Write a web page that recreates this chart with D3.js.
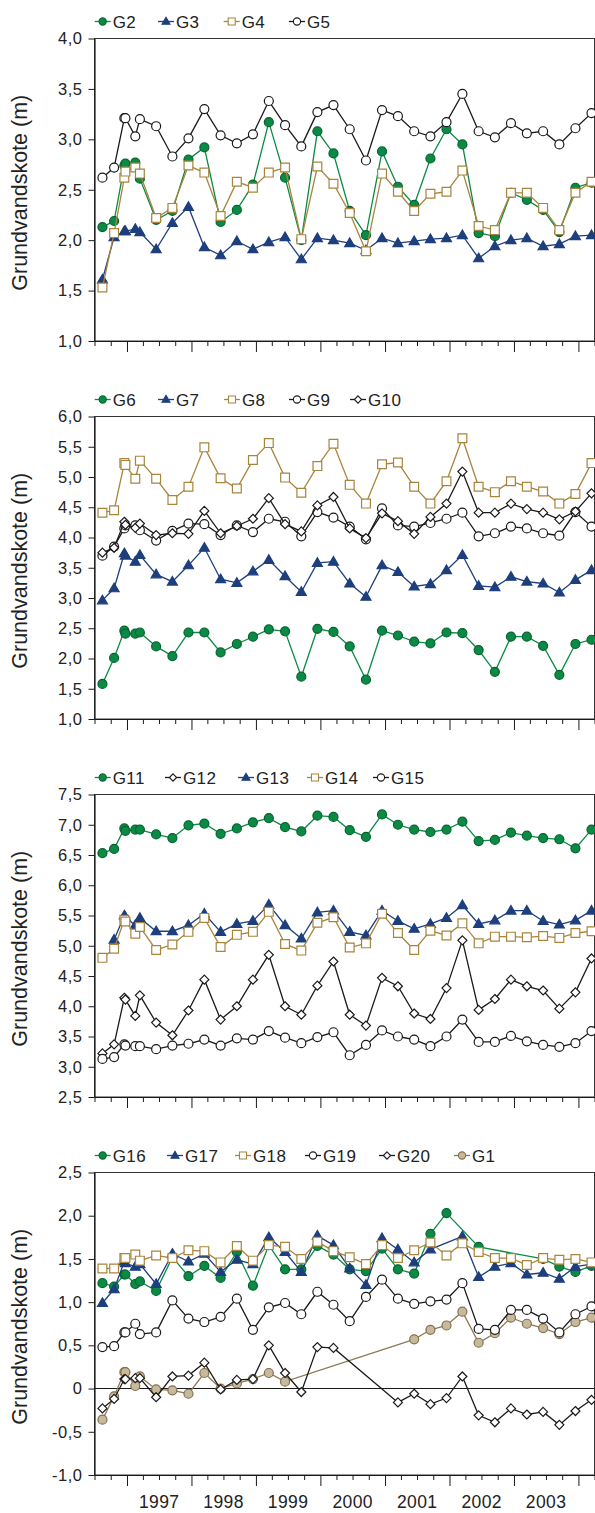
<!DOCTYPE html>
<html>
<head>
<meta charset="utf-8">
<script src="https://cdn.jsdelivr.net/npm/d3@7.9.0/dist/d3.min.js"></script>
<style>
  body { margin: 0; background: #fff; }
  svg { display: block; font-family: "Liberation Sans", Arial, sans-serif; }
</style>
</head>
<body>
<div id="chart"></div>
<script>
// sampling dates (two close samplings in Dec 1996)
const dates = ["1996-08-15", "1996-10-20", "1996-12-17", "1996-12-23", "1997-02-17", "1997-03-15",
  "1997-06-15", "1997-09-15", "1997-12-15", "1998-03-15", "1998-06-15", "1998-09-15", "1998-12-15",
  "1999-03-15", "1999-06-15", "1999-09-15", "1999-12-15", "2000-03-15", "2000-06-15", "2000-09-15",
  "2000-12-15", "2001-03-15", "2001-06-15", "2001-09-15", "2001-12-15", "2002-03-15", "2002-06-15",
  "2002-09-15", "2002-12-15", "2003-03-15", "2003-06-15", "2003-09-15", "2003-12-15", "2004-03-15"];

const yearLabels = [1997, 1998, 1999, 2000, 2001, 2002, 2003];

// groundwater level (m) per well
const G2  = [2.13, 2.19, 2.74, 2.76, 2.77, 2.61, 2.20, 2.29, 2.80, 2.92, 2.18, 2.30, 2.55, 3.17, 2.62, 2.00, 3.08, 2.86, 2.29, 2.05, 2.88, 2.53, 2.35, 2.81, 3.10, 2.95, 2.07, 2.04, 2.47, 2.40, 2.30, 2.08, 2.52, 2.57];
const G3  = [1.61, 2.03, 2.09, 2.09, 2.11, 2.08, 1.91, 2.17, 2.33, 1.93, 1.85, 1.99, 1.91, 1.98, 2.03, 1.81, 2.02, 2.00, 1.97, 1.90, 2.02, 1.97, 1.99, 2.01, 2.02, 2.05, 1.82, 1.94, 2.00, 2.02, 1.94, 1.96, 2.04, 2.05];
const G4  = [1.53, 2.07, 2.62, 2.68, 2.72, 2.66, 2.22, 2.32, 2.74, 2.67, 2.24, 2.58, 2.52, 2.67, 2.72, 2.01, 2.73, 2.56, 2.27, 1.89, 2.66, 2.48, 2.29, 2.46, 2.48, 2.69, 2.14, 2.10, 2.47, 2.47, 2.32, 2.10, 2.47, 2.58];
const G5  = [2.62, 2.72, 3.21, 3.21, 3.03, 3.20, 3.13, 2.83, 3.01, 3.30, 3.04, 2.96, 3.05, 3.38, 3.14, 2.93, 3.27, 3.34, 3.10, 2.79, 3.29, 3.23, 3.08, 3.03, 3.17, 3.45, 3.08, 3.02, 3.16, 3.06, 3.08, 2.95, 3.11, 3.26];

const G6  = [1.58, 2.01, 2.46, 2.41, 2.41, 2.43, 2.20, 2.04, 2.43, 2.43, 2.10, 2.24, 2.36, 2.48, 2.45, 1.70, 2.49, 2.44, 2.20, 1.65, 2.46, 2.38, 2.28, 2.25, 2.43, 2.42, 2.14, 1.78, 2.36, 2.36, 2.21, 1.73, 2.24, 2.31];
const G7  = [2.96, 3.16, 3.74, 3.70, 3.60, 3.71, 3.39, 3.27, 3.54, 3.83, 3.31, 3.25, 3.44, 3.63, 3.36, 3.10, 3.58, 3.60, 3.24, 3.02, 3.54, 3.43, 3.19, 3.23, 3.46, 3.71, 3.20, 3.18, 3.35, 3.27, 3.24, 3.09, 3.30, 3.46];
const G8  = [4.41, 4.45, 5.23, 5.20, 4.97, 5.27, 4.97, 4.62, 4.84, 5.49, 4.98, 4.81, 5.28, 5.56, 4.99, 4.74, 5.18, 5.55, 4.87, 4.56, 5.21, 5.24, 4.84, 4.56, 4.93, 5.64, 4.84, 4.75, 4.93, 4.84, 4.76, 4.56, 4.72, 5.23];
const G9  = [3.70, 3.85, 4.15, 4.20, 4.20, 4.12, 3.95, 4.11, 4.23, 4.22, 4.04, 4.20, 4.09, 4.31, 4.26, 4.02, 4.42, 4.33, 4.18, 3.97, 4.48, 4.20, 4.18, 4.24, 4.31, 4.41, 4.02, 4.07, 4.18, 4.15, 4.07, 4.03, 4.42, 4.18];
const G10 = [3.75, 3.83, 4.26, 4.21, 4.16, 4.23, 4.04, 4.07, 4.06, 4.44, 4.07, 4.19, 4.31, 4.65, 4.22, 4.10, 4.53, 4.67, 4.15, 3.99, 4.40, 4.27, 4.06, 4.34, 4.56, 5.09, 4.41, 4.41, 4.56, 4.47, 4.41, 4.30, 4.43, 4.73];

const G11 = [6.53, 6.60, 6.94, 6.90, 6.92, 6.92, 6.84, 6.78, 6.99, 7.02, 6.85, 6.94, 7.04, 7.11, 6.96, 6.89, 7.15, 7.13, 6.91, 6.80, 7.17, 7.00, 6.92, 6.88, 6.92, 7.05, 6.73, 6.75, 6.87, 6.82, 6.78, 6.76, 6.61, 6.92];
const G12 = [3.22, 3.37, 4.14, 4.11, 3.84, 4.18, 3.73, 3.52, 3.93, 4.44, 3.78, 4.00, 4.44, 4.85, 4.00, 3.86, 4.34, 4.74, 3.86, 3.68, 4.47, 4.33, 3.88, 3.79, 4.30, 5.09, 3.94, 4.12, 4.44, 4.33, 4.26, 3.96, 4.23, 4.79];
const G13 = [null, 5.10, 5.50, 5.47, 5.34, 5.46, 5.24, 5.24, 5.34, 5.53, 5.23, 5.36, 5.41, 5.68, 5.34, 5.12, 5.55, 5.58, 5.23, 5.17, 5.58, 5.41, 5.28, 5.36, 5.46, 5.67, 5.36, 5.42, 5.58, 5.58, 5.41, 5.35, 5.42, 5.58];
const G14 = [4.80, 4.95, 5.43, 5.40, 5.20, 5.31, 4.93, 5.02, 5.23, 5.46, 4.98, 5.18, 5.23, 5.56, 5.03, 4.92, 5.38, 5.47, 4.97, 5.04, 5.53, 5.21, 4.93, 5.25, 5.17, 5.37, 5.04, 5.15, 5.15, 5.14, 5.16, 5.13, 5.21, 5.24];
const G15 = [3.13, 3.16, 3.37, 3.35, 3.34, 3.34, 3.29, 3.35, 3.38, 3.45, 3.35, 3.47, 3.45, 3.59, 3.48, 3.39, 3.49, 3.57, 3.19, 3.36, 3.60, 3.50, 3.45, 3.34, 3.50, 3.78, 3.41, 3.41, 3.51, 3.42, 3.36, 3.33, 3.39, 3.59];

const G16 = [1.22, 1.18, 1.32, 1.32, 1.21, 1.24, 1.13, 1.52, 1.30, 1.42, 1.28, 1.58, 1.19, 1.66, 1.38, 1.38, 1.65, 1.55, 1.38, 1.36, 1.62, 1.38, 1.33, 1.79, 2.03, null, 1.64, null, null, null, 1.50, 1.41, 1.35, 1.42];
const G17 = [0.99, 1.15, 1.47, 1.45, 1.41, 1.44, 1.21, 1.56, 1.47, 1.56, 1.35, 1.49, 1.44, 1.75, 1.58, 1.35, 1.77, 1.66, 1.39, 1.20, 1.74, 1.61, 1.46, 1.61, null, 1.76, 1.29, 1.41, 1.45, 1.32, 1.34, 1.27, 1.41, 1.44];
const G18 = [1.39, 1.39, 1.51, 1.51, 1.55, 1.48, 1.54, 1.51, 1.60, 1.59, 1.46, 1.65, 1.48, 1.66, 1.64, 1.50, 1.70, 1.59, 1.52, 1.44, 1.66, 1.51, 1.60, 1.69, 1.54, 1.68, 1.58, 1.51, 1.51, 1.43, 1.51, 1.49, 1.50, 1.46];
const G19 = [0.48, 0.49, 0.65, 0.65, 0.75, 0.63, 0.65, 1.02, 0.81, 0.77, 0.83, 1.04, 0.68, 0.94, 0.99, 0.86, 1.12, 0.97, 0.78, 1.06, 1.26, 1.04, 0.98, 1.01, 1.03, 1.22, 0.69, 0.68, 0.91, 0.91, 0.81, 0.65, 0.86, 0.95];
const G20 = [-0.23, -0.12, 0.11, 0.11, 0.12, 0.12, -0.10, 0.14, 0.15, 0.30, -0.01, 0.10, 0.11, 0.50, 0.18, -0.04, 0.48, 0.47, null, null, null, -0.16, -0.06, -0.18, -0.11, 0.14, -0.31, -0.39, -0.23, -0.30, -0.27, -0.42, -0.26, -0.13];
const G1  = [-0.36, -0.09, 0.19, 0.19, 0.03, 0.14, -0.01, -0.02, -0.06, 0.18, 0.00, 0.06, 0.11, 0.18, 0.08, null, null, null, null, null, null, null, 0.57, 0.68, 0.73, 0.89, 0.53, 0.64, 0.82, 0.75, 0.70, 0.63, 0.77, 0.82];

const seriesValues = { G1, G2, G3, G4, G5, G6, G7, G8, G9, G10, G11, G12, G13, G14, G15, G16, G17, G18, G19, G20 };

// panels: legend order, y range
const panels = [
  { legend: ["G2", "G3", "G4", "G5"], yMin: 1, yMax: 4 },
  { legend: ["G6", "G7", "G8", "G9", "G10"], yMin: 1, yMax: 6 },
  { legend: ["G11", "G12", "G13", "G14", "G15"], yMin: 2.5, yMax: 7.5 },
  { legend: ["G16", "G17", "G18", "G19", "G20", "G1"], yMin: -1, yMax: 2.5 }
];

// --- look ---
const green = "#0a8a44", greenDark = "#06632f", navy = "#1e3f7d", tan = "#a8843c", ink = "#1a1a1a";
const styles = {
  dotGreen:  { shape: "circle",   fill: green,     stroke: greenDark, line: green },
  triNavy:   { shape: "triangle", fill: navy,      stroke: navy,      line: navy },
  sqTan:     { shape: "square",   fill: "#fff",    stroke: tan,       line: tan },
  openCirc:  { shape: "circle",   fill: "#fff",    stroke: ink,       line: ink },
  diamond:   { shape: "diamond",  fill: "#fff",    stroke: ink,       line: ink },
  dotBeige:  { shape: "circle",   fill: "#c9b99c", stroke: "#80714f", line: "#8d7a55" }
};
const seriesStyle = {
  G2: "dotGreen", G3: "triNavy", G4: "sqTan", G5: "openCirc",
  G6: "dotGreen", G7: "triNavy", G8: "sqTan", G9: "openCirc", G10: "diamond",
  G11: "dotGreen", G12: "diamond", G13: "triNavy", G14: "sqTan", G15: "openCirc",
  G16: "dotGreen", G17: "triNavy", G18: "sqTan", G19: "openCirc", G20: "diamond", G1: "dotBeige"
};
// draw order per panel (G1 sits behind in the last panel)
const drawOrder = [
  ["G2", "G3", "G4", "G5"],
  ["G6", "G7", "G8", "G9", "G10"],
  ["G11", "G12", "G13", "G14", "G15"],
  ["G1", "G16", "G17", "G18", "G19", "G20"]
];
// legend marker centres, per panel
const legendX = [
  [102.7, 166, 231.7, 297],
  [102.7, 166, 232, 297, 358],
  [102.7, 173, 246, 315, 381],
  [102.7, 175, 243, 313, 387, 462]
];

function markerPath(shape, s) {
  if (shape === "circle") return d3.symbol(d3.symbolCircle, Math.PI * (4.5 * s) ** 2)();
  if (shape === "square") return d3.symbol(d3.symbolSquare, (8.8 * s) ** 2)();
  if (shape === "triangle") {
    const w = 5 * s, h = 8.6 * s;
    return `M0,${-h * 0.6}L${w},${h * 0.4}L${-w},${h * 0.4}Z`;
  }
  const r = 4.5 * s;
  return `M0,${-r}L${r},0L0,${r}L${-r},0Z`;
}

const W = 595, H = 1513;
const left = 94.5, right = 594.5;
const plotH = 302.5, firstTop = 38.5, step = 378;

const svg = d3.select("#chart").append("svg").attr("width", W).attr("height", H);

const parse = d3.utcParse("%Y-%m-%d");
const when = dates.map(parse);
const x = d3.scaleUtc()
  .domain([new Date(Date.UTC(1996, 6, 1)), new Date(Date.UTC(2004, 3, 1))])
  .range([left, right]);
const quarters = d3.utcMonth.every(3).range(new Date(Date.UTC(1996, 6, 1)), new Date(Date.UTC(2004, 3, 2)));

const fmt = v => Math.abs(v) < 1e-9 ? "0" : v.toFixed(1).replace(".", ",");

panels.forEach((p, i) => {
  const top = firstTop + i * step, bottom = top + plotH;
  const y = d3.scaleLinear().domain([p.yMin, p.yMax]).range([bottom, top]);
  const g = svg.append("g");

  // frame
  g.append("rect")
    .attr("x", left).attr("y", top).attr("width", right - left).attr("height", plotH)
    .attr("fill", "none").attr("stroke", "#333").attr("stroke-width", 1);

  // zero line
  if (p.yMin < 0 && p.yMax > 0) {
    g.append("line").attr("x1", left).attr("x2", right)
      .attr("y1", y(0)).attr("y2", y(0)).attr("stroke", ink).attr("stroke-width", 1.1);
  }

  // y axis
  const yAxis = g.append("g").attr("transform", `translate(${left},0)`)
    .call(d3.axisLeft(y).tickValues(d3.range(p.yMin, p.yMax + 0.001, 0.5))
      .tickFormat(fmt).tickSize(6).tickPadding(6).tickSizeOuter(0));
  yAxis.select(".domain").attr("stroke", ink).attr("stroke-width", 1.2);
  yAxis.selectAll(".tick line").attr("stroke", ink);
  yAxis.selectAll(".tick text")
    .attr("font-family", "Liberation Sans, Arial, sans-serif")
    .attr("font-size", 16.5).attr("letter-spacing", 0.5).attr("fill", "#222");

  // x axis: quarterly ticks, longer at year starts
  const xAxis = g.append("g").attr("transform", `translate(0,${bottom})`)
    .call(d3.axisBottom(x).tickValues(quarters).tickFormat("").tickSize(5).tickSizeOuter(0));
  xAxis.select(".domain").attr("stroke", ink).attr("stroke-width", 1.2);
  xAxis.selectAll(".tick line").attr("stroke", ink)
    .attr("y2", d => d.getUTCMonth() === 0 ? 11 : 5);

  if (i === panels.length - 1) {
    g.selectAll("text.year").data(yearLabels).join("text")
      .attr("class", "year")
      .attr("x", d => x(new Date(Date.UTC(d, 6, 2))))
      .attr("y", bottom + 33)
      .attr("text-anchor", "middle")
      .attr("font-size", 17.5).attr("letter-spacing", 0.4).attr("fill", "#222")
      .text(d => d);
  }

  // y title
  g.append("text")
    .attr("transform", `translate(27,${(top + bottom) / 2 + 3}) rotate(-90)`)
    .attr("text-anchor", "middle")
    .attr("font-size", 21.5).attr("fill", "#222")
    .text("Grundvandskote (m)");

  // series
  const line = d3.line().x(d => x(d.t)).y(d => y(d.v));
  drawOrder[i].forEach(name => {
    const st = styles[seriesStyle[name]];
    const pts = seriesValues[name]
      .map((v, k) => ({ t: when[k], v }))
      .filter(d => d.v !== null);
    const sg = g.append("g").attr("class", "series-" + name);
    sg.append("path").datum(pts)
      .attr("d", line).attr("fill", "none")
      .attr("stroke", st.line).attr("stroke-width", 1.3);
    sg.selectAll("path.mk").data(pts).join("path")
      .attr("class", "mk")
      .attr("transform", d => `translate(${x(d.t)},${y(d.v)})`)
      .attr("d", markerPath(st.shape, 1))
      .attr("fill", st.fill).attr("stroke", st.stroke).attr("stroke-width", 1.2);
  });

  // legend
  const ly = top - 17;
  p.legend.forEach((name, k) => {
    const st = styles[seriesStyle[name]];
    const mx = legendX[i][k];
    const lg = g.append("g");
    lg.append("line").attr("x1", mx - 8).attr("x2", mx + 8).attr("y1", ly).attr("y2", ly)
      .attr("stroke", st.line).attr("stroke-width", 1.3);
    lg.append("path").attr("transform", `translate(${mx},${ly})`)
      .attr("d", markerPath(st.shape, 0.8))
      .attr("fill", st.fill).attr("stroke", st.stroke).attr("stroke-width", 1.1);
    lg.append("text").attr("x", mx + 10).attr("y", top - 11)
      .attr("font-size", 17).attr("letter-spacing", 0.4).attr("fill", "#222")
      .text(name);
  });
});
</script>
</body>
</html>
